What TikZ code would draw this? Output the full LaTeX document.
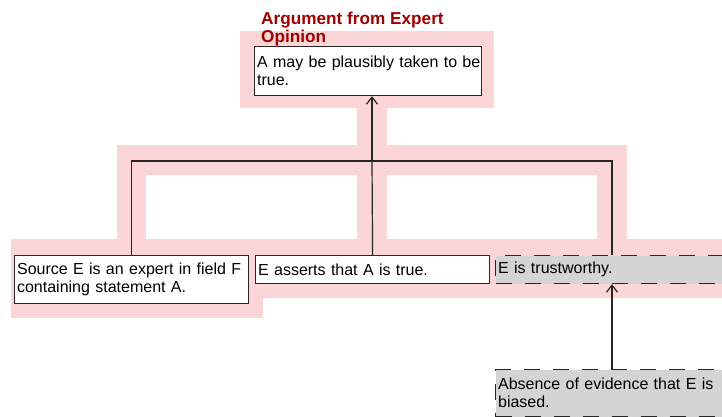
\documentclass[tikz,border=0pt]{standalone}
\usepackage{fontspec}
\setmainfont{Liberation Sans}
\usetikzlibrary{arrows.meta}

\definecolor{hlpink}{RGB}{252,214,214}
\definecolor{titlered}{RGB}{160,0,0}
\definecolor{boxgray}{RGB}{212,212,212}

\tikzset{
  stmt/.style={draw=black!85, line width=1.2pt, fill=white, anchor=north west, align=left,
    inner xsep=2.5pt, inner ysep=2pt, font=\fontsize{16}{18}\selectfont},
  assume/.style={stmt, fill=boxgray, dash pattern=on 16pt off 13pt},
  link/.style={black!85, line width=1.2pt},
  tip/.style={-{Straight Barb[length=7pt,width=11pt]}},
  hl/.style={fill=hlpink}
}

\begin{document}
\begin{tikzpicture}[x=1pt,y=-1pt]
        % Canvas
        \clip (0,0) rectangle (722,417);

        % Draw the highlighted argument
        \fill[hl] (240,31) rectangle (494,108);
        \fill[hl] (357,108) rectangle (387,145);
        \fill[hl] (117,145) rectangle (627,175);
        \fill[hl] (117,175) rectangle (146,239);
        \fill[hl] (357,175) rectangle (387,239);
        \fill[hl] (597,175) rectangle (627,239);
        \fill[hl] (11,239) rectangle (730,298);
        \fill[hl] (11,298) rectangle (263,318);

        % Title and conclusion
        \node[anchor=north west, align=left, inner sep=0pt, text=titlered,
          font=\fontsize{17.2}{17.5}\selectfont\bfseries] (title) at (261,12) {Argument from Expert\\Opinion};
        \node[stmt, text width=222pt, minimum height=49pt] (claim) at (254,46) {\mbox{A may be plausibly taken to be}\\true.};

        % Premises
        \node[stmt, text width=229pt, minimum height=48pt] (src) at (14,255) {Source E is an expert in field F\\containing statement A.};
        \node[stmt, text width=229pt, minimum height=28pt] (asserts) at (255,255) {E asserts that A is true.};
        \node[assume, text width=240pt, minimum height=28pt] (trust) at (495,255) {E is trustworthy.};
        \node[assume, text width=240pt, minimum height=47pt] (bias) at (495,369) {Absence of evidence that E is\\biased.};

        % Draw the links
        \coordinate (join) at (372,161);
        \coordinate (rx) at (612,0);
        \draw[link] (src.north) |- (join) -| (trust.north -| rx);
        \draw[link] (asserts.north) -- (join);
        \draw[link, tip] (join) -- (claim.south -| join);
        \draw[link, tip] (bias.north -| rx) -- (trust.south -| rx);
    \end{tikzpicture}
\end{document}
